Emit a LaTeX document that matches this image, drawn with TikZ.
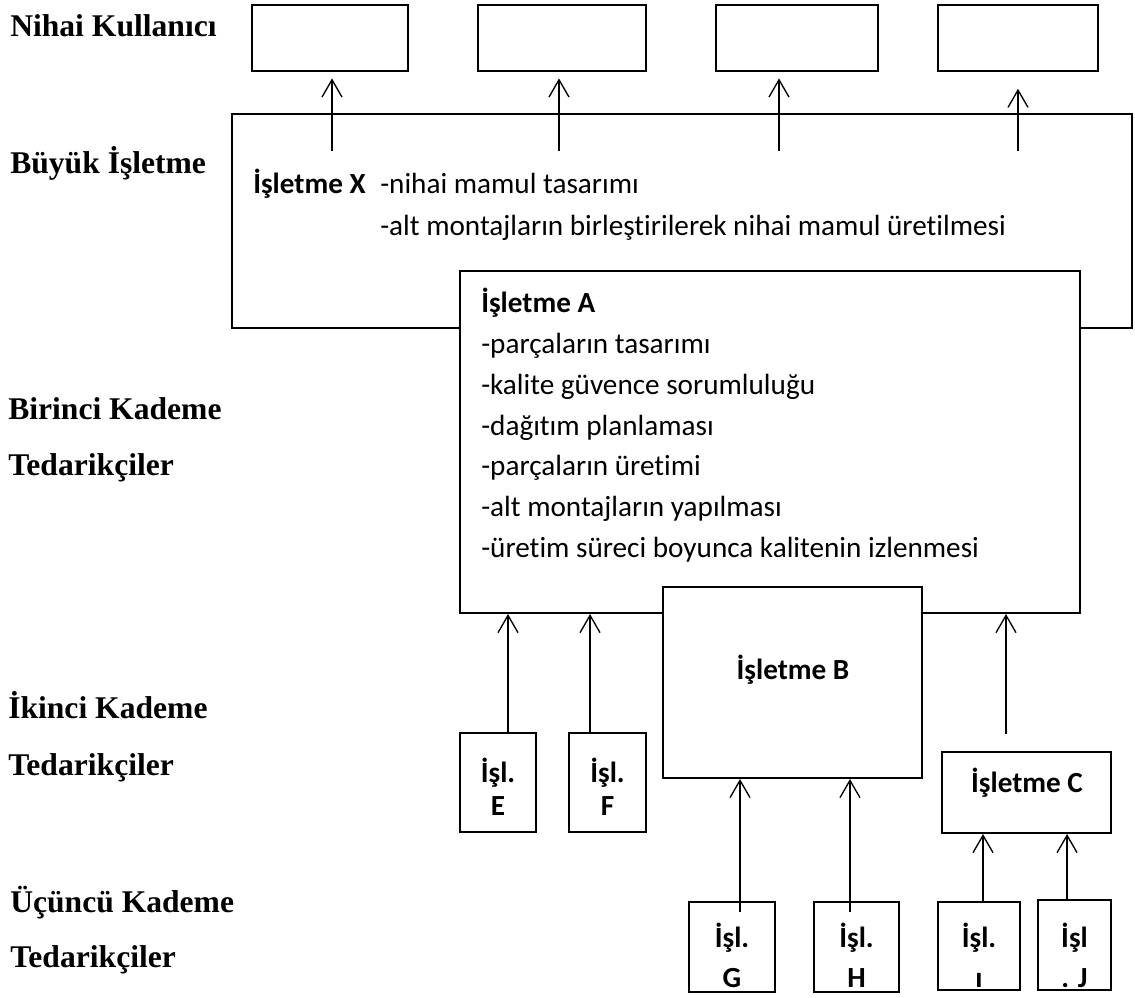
\documentclass[tikz,border=0pt]{standalone}
\usepackage{fontspec}
\setmainfont{Carlito}[Ligatures=NoCommon]
\newfontfamily\tnr{Liberation Serif}
\usetikzlibrary{arrows.meta}

\begin{document}
\begin{tikzpicture}[x=0.75pt,y=-0.75pt,
  up/.style={-{Straight Barb[length=13pt,width=15pt]},line width=1pt},
  kutu/.style={draw,line width=1.5pt,fill=white,inner sep=0pt},
  son/.style={draw,line width=1.1pt,inner sep=0pt,minimum height=49.5pt},
  kademe/.style={anchor=base west,inner sep=0pt,font=\tnr\bfseries\fontsize{23.7}{28}\selectfont},
  satir/.style={anchor=base west,inner sep=0pt,font=\fontsize{21.9}{27}\selectfont},
  isl/.style={inner sep=0pt,align=center,font=\bfseries\fontsize{21.9}{30}\selectfont}]
\useasboundingbox (0,0) rectangle (1135,997);

% kademeler
\node[kademe] (k0) at (10,36) {Nihai Kullanıcı};
\node[kademe] (k1) at (10,173) {Büyük İşletme};
\node[kademe] (k2a) at (8,419) {Birinci Kademe};
\node[kademe] (k2b) at (8,475) {Tedarikçiler};
\node[kademe] (k3a) at (8,718) {İkinci Kademe};
\node[kademe] (k3b) at (8,775) {Tedarikçiler};
\node[kademe] (k4a) at (10,912) {Üçüncü Kademe};
\node[kademe] (k4b) at (10,967) {Tedarikçiler};

% nihai kullanicilar
\node[son,minimum width=117pt] (u1) at (330,38) {};
\node[son,minimum width=126pt] (u2) at (562,38) {};
\node[son,minimum width=121.5pt] (u3) at (797,38) {};
\node[son,minimum width=120pt] (u4) at (1018,38) {};

% isletme X
\node[kutu,minimum width=675pt,minimum height=160.5pt] (X) at (682,221) {};
\node[satir] (x0) at (253,193) {\bfseries İşletme X};
\node[satir] (x1) at (380,193) {-nihai mamul tasarımı};
\node[satir] (x2) at (380,235) {-alt montajların birleştirilerek nihai mamul üretilmesi};

\coordinate (a1) at (332,151);
\coordinate (a2) at (559,151);
\coordinate (a3) at (779,151);
\coordinate (a4) at (1018,151);
\draw[up,shorten >=5pt] (a1) -- (a1 |- u1.south);
\draw[up,shorten >=5pt] (a2) -- (a2 |- u2.south);
\draw[up,shorten >=5pt] (a3) -- (a3 |- u3.south);
\draw[up,shorten >=12.75pt] (a4) -- (a4 |- u4.south);

% isletme A
\node[kutu,minimum width=465pt,minimum height=256.5pt] (A) at (770,442) {};
\node[satir] (y0) at (481,312) {\bfseries İşletme A};
\node[satir] (y1) at (481,353) {-parçaların tasarımı};
\node[satir] (y2) at (481,394) {-kalite güvence sorumluluğu};
\node[satir] (y3) at (481,435) {-dağıtım planlaması};
\node[satir] (y4) at (481,475) {-parçaların üretimi};
\node[satir] (y5) at (481,516) {-alt montajların yapılması};
\node[satir] (y6) at (481,557) {-üretim süreci boyunca kalitenin izlenmesi};

% ikinci kademe
\node[kutu,minimum width=194.25pt,minimum height=143.25pt] (B) at (792.5,682.5) {};
\node[isl] (tB) at (793,670) {İşletme B};
\node[kutu,minimum width=126.75pt,minimum height=60.75pt] (C) at (1026.5,792.5) {};
\node[isl] (tC) at (1027,783) {İşletme C};
\node[kutu,minimum width=57pt,minimum height=74.25pt] (E) at (498,782.5) {};
\node[isl] (tE) at (498,787) {İşl.\\[-5pt]E};
\node[kutu,minimum width=57.75pt,minimum height=74.25pt] (F) at (607.5,782.5) {};
\node[isl] (tF) at (607.5,787) {İşl.\\[-5pt]F};

\draw[up] ([xshift=7.5pt]E.north) -- ([xshift=7.5pt]E.north |- A.south);
\draw[up] ([xshift=-13.1pt]F.north) -- ([xshift=-13.1pt]F.north |- A.south);
\coordinate (cA) at (1006,734);
\draw[up] (cA) -- (cA |- A.south);

% ucuncu kademe
\node[kutu,minimum width=64.5pt,minimum height=67.5pt] (G) at (732,947) {};
\node[isl] (tG) at (732,955) {İşl.\\G};
\node[kutu,minimum width=63.75pt,minimum height=67.5pt] (H) at (856.5,947) {};
\node[isl] (tH) at (856.5,955) {İşl.\\H};
\node[kutu,minimum width=61.5pt,minimum height=66pt] (I) at (979,946) {};
\node[isl] (tI) at (979,955) {İşl.\\ı};
\node[kutu,minimum width=54.75pt,minimum height=67.5pt] (J) at (1074.5,945) {};
\node[isl] (tJ) at (1074.5,955) {İşl\\. J};

\draw[up] ([xshift=6pt,yshift=-8pt]G.north) -- ([xshift=6pt]G.north |- B.south);
\draw[up] ([xshift=-4.9pt,yshift=-8pt]H.north) -- ([xshift=-4.9pt]H.north |- B.south);
\draw[up] ([xshift=3pt]I.north) -- ([xshift=3pt]I.north |- C.south);
\draw[up] ([xshift=-5.6pt]J.north) -- ([xshift=-5.6pt]J.north |- C.south);
\end{tikzpicture}
\end{document}
